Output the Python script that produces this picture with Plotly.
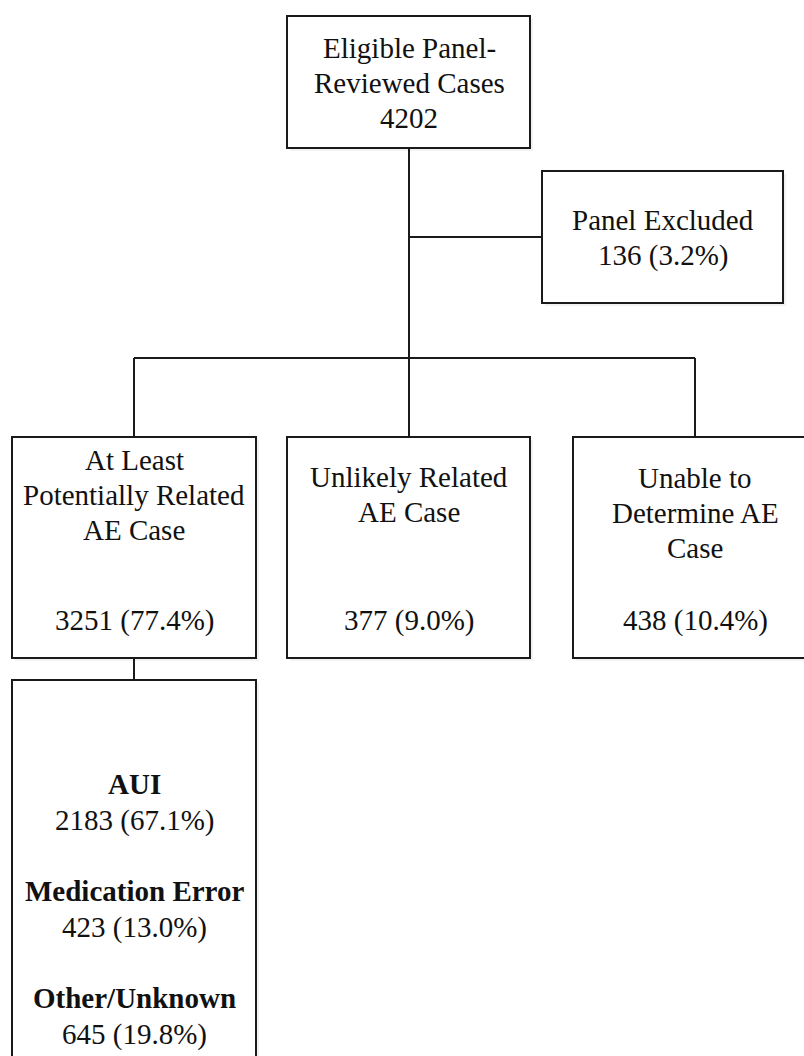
import plotly.graph_objects as go

# ---- data ----
total_label = ["Eligible Panel-", "Reviewed Cases"]
total_n = 4202
excluded_label = ["Panel Excluded"]
excluded_n = 136
excluded_pct = 3.2
category_labels = [["At Least", "Potentially Related", "AE Case"],
                   ["Unlikely Related", "AE Case"],
                   ["Unable to", "Determine AE", "Case"]]
category_n = [3251, 377, 438]
category_pct = [77.4, 9.0, 10.4]
sub_labels = ["AUI", "Medication Error", "Other/Unknown"]
sub_n = [2183, 423, 645]
sub_pct = [67.1, 13.0, 19.8]

# ---- layout geometry (page pixels) ----
W, H = 804, 1056
FONT = "Liberation Serif, Times New Roman, serif"
FS = 29
LH = 35
LW = 2
INK = "#1a1a1a"

top_box = (287, 16, 530, 148)
excl_box = (542, 171, 783, 303)
cat_boxes = [(12, 437, 256, 658), (287, 437, 530, 658), (573, 437, 830, 658)]
sub_box = (12, 680, 256, 1090)
branch_y = 358
excl_y = 237

fig = go.Figure()
shapes = []
annotations = []


def box(b):
    x0, y0, x1, y1 = b
    shapes.append(dict(type="rect", xref="x", yref="y", x0=x0 + 3, y0=y0 + 3,
                       x1=x1 + 3, y1=y1 + 3, line=dict(width=0),
                       fillcolor="rgba(0,0,0,0.05)", layer="below"))
    shapes.append(dict(type="rect", xref="x", yref="y", x0=x0, y0=y0, x1=x1, y1=y1,
                       line=dict(color=INK, width=LW), fillcolor="white", layer="below"))


def line(x0, y0, x1, y1):
    shapes.append(dict(type="line", xref="x", yref="y", x0=x0, y0=y0, x1=x1, y1=y1,
                       line=dict(color=INK, width=LW), layer="below"))


def text(x, y, s):
    annotations.append(dict(x=x, y=y, xref="x", yref="y", text=s, showarrow=False,
                            xanchor="center", yanchor="middle",
                            font=dict(family=FONT, size=FS, color="#111111")))


def lines(x, y0, items):
    for k, s in enumerate(items):
        text(x, y0 + k * LH, s)


# connectors
top_cx = 409
cat_centers = [134, 409, 695]
line(top_cx, top_box[3], top_cx, branch_y)
line(top_cx, excl_y, excl_box[0], excl_y)
line(cat_centers[0], branch_y, cat_centers[2], branch_y)
for c in cat_centers:
    line(c, branch_y, c, cat_boxes[0][1])
line(cat_centers[0], cat_boxes[0][3], cat_centers[0], sub_box[1])

# boxes
box(top_box)
box(excl_box)
for b in cat_boxes:
    box(b)
box(sub_box)

# texts
lines(top_cx, 48, total_label + [str(total_n)])
lines(663, 220, excluded_label + [f"{excluded_n} ({excluded_pct:.1f}%)"])
label_y0 = [460, 477, 478]
for i in range(3):
    lines(cat_centers[i], label_y0[i], category_labels[i])
    text(cat_centers[i], 620, f"{category_n[i]} ({category_pct[i]:.1f}%)")
sub_y0 = [784, 891, 998]
for i in range(3):
    text(cat_centers[0], sub_y0[i], f"<b>{sub_labels[i]}</b>")
    text(cat_centers[0], sub_y0[i] + 36, f"{sub_n[i]} ({sub_pct[i]:.1f}%)")

fig.update_layout(
    width=W, height=H, margin=dict(l=0, r=0, t=0, b=0),
    paper_bgcolor="white", plot_bgcolor="white",
    xaxis=dict(range=[0, W], visible=False, fixedrange=True),
    yaxis=dict(range=[H, 0], visible=False, fixedrange=True),
    shapes=shapes, annotations=annotations, showlegend=False,
)
fig.write_html("out.html",
               config={"displayModeBar": False, "staticPlot": True},
               post_script="document.body.style.margin='0';document.body.style.overflow='hidden';")
